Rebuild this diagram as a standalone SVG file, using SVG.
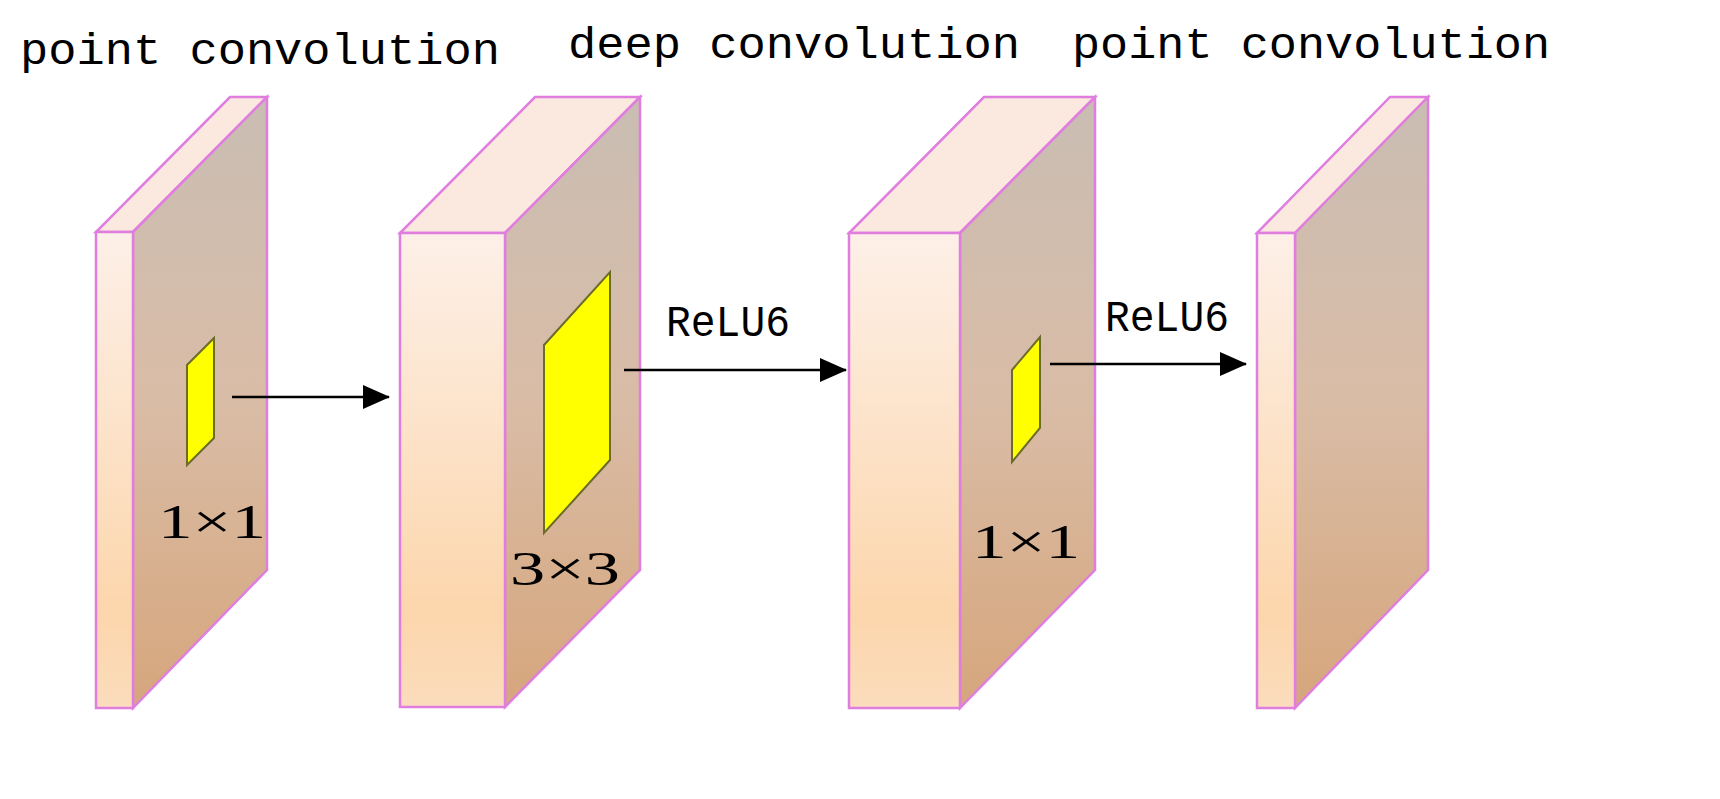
<svg xmlns="http://www.w3.org/2000/svg" width="1720" height="799" viewBox="0 0 1720 799">
<defs>
<linearGradient id="front" x1="0" y1="0" x2="0" y2="1"><stop offset="0" stop-color="#fdf0e8"/><stop offset="0.8" stop-color="#fcd6ac"/><stop offset="1" stop-color="#fbdcbc"/></linearGradient>
<linearGradient id="side" x1="0" y1="0" x2="0" y2="1"><stop offset="0" stop-color="#c9bdb3"/><stop offset="0.5" stop-color="#d9bca6"/><stop offset="1" stop-color="#d6a67c"/></linearGradient>
<marker id="arr" markerWidth="12" markerHeight="10" refX="11" refY="5" orient="auto" markerUnits="userSpaceOnUse"><path d="M0,0 L28,5 L0,10 z" transform="scale(0.43,1)" fill="#000"/></marker>
<marker id="ah" markerWidth="28" markerHeight="24" refX="26" refY="12" orient="auto" markerUnits="userSpaceOnUse"><path d="M0,0 L27,12 L0,24 z" fill="#000"/></marker>
</defs>
<style>
.f{fill:url(#front);stroke:#e07ee0;stroke-width:2.5}
.s{fill:url(#side);stroke:#e07ee0;stroke-width:2.5}
.t{fill:#fbe8de;stroke:#e07ee0;stroke-width:2.5}
.y{fill:#ffff00;stroke:#6b6b2a;stroke-width:2}
.lbl{font-family:"Liberation Mono",monospace;font-size:44px;fill:#000}
.dim{font-family:"Liberation Serif",serif;font-size:48px;fill:#000}
.c{stroke:#000;stroke-width:2.5;fill:none}
</style>
<rect width="1720" height="799" fill="#fff"/>
<text class="lbl" x="20" y="64" textLength="480" lengthAdjust="spacingAndGlyphs">point convolution</text>
<text class="lbl" x="568" y="58" textLength="452" lengthAdjust="spacingAndGlyphs">deep convolution</text>
<text class="lbl" x="1072" y="58" textLength="478" lengthAdjust="spacingAndGlyphs">point convolution</text>
<g id="block1">
<polygon class="t" points="96,232 133,232 267,97 230,97"/>
<polygon class="s" points="133,232 267,97 267,570 133,708"/>
<rect class="f" x="96" y="232" width="37" height="476"/>
<polygon class="y" points="187,365 214,338 214,438 187,465"/>
<text class="dim" x="158" y="538" textLength="108" lengthAdjust="spacingAndGlyphs">1×1</text>
</g>
<g id="block2">
<polygon class="t" points="400,233 505,233 640,97 535,97"/>
<polygon class="s" points="505,233 640,97 640,570 505,707"/>
<rect class="f" x="400" y="233" width="105" height="474"/>
<polygon class="y" points="544,345 610,272 610,460 544,533"/>
<text class="dim" x="510" y="585" textLength="110" lengthAdjust="spacingAndGlyphs">3×3</text>
</g>
<g id="block3">
<polygon class="t" points="849,233 960,233 1095,97 984,97"/>
<polygon class="s" points="960,233 1095,97 1095,570 960,708"/>
<rect class="f" x="849" y="233" width="111" height="475"/>
<polygon class="y" points="1012,370 1040,337 1040,428 1012,462"/>
<text class="dim" x="972" y="558" textLength="108" lengthAdjust="spacingAndGlyphs">1×1</text>
</g>
<g id="block4">
<polygon class="t" points="1257,233 1295,233 1428,97 1390,97"/>
<polygon class="s" points="1295,233 1428,97 1428,570 1295,708"/>
<rect class="f" x="1257" y="233" width="38" height="475"/>
</g>
<g id="connectors">
<line class="c" x1="232" y1="397" x2="389" y2="397" marker-end="url(#ah)"/>
<line class="c" x1="624" y1="370" x2="846" y2="370" marker-end="url(#ah)"/>
<line class="c" x1="1050" y1="364" x2="1246" y2="364" marker-end="url(#ah)"/>
<text class="lbl" x="666" y="336" textLength="124" lengthAdjust="spacingAndGlyphs">ReLU6</text>
<text class="lbl" x="1105" y="331" textLength="124" lengthAdjust="spacingAndGlyphs">ReLU6</text>
</g>
</svg>
